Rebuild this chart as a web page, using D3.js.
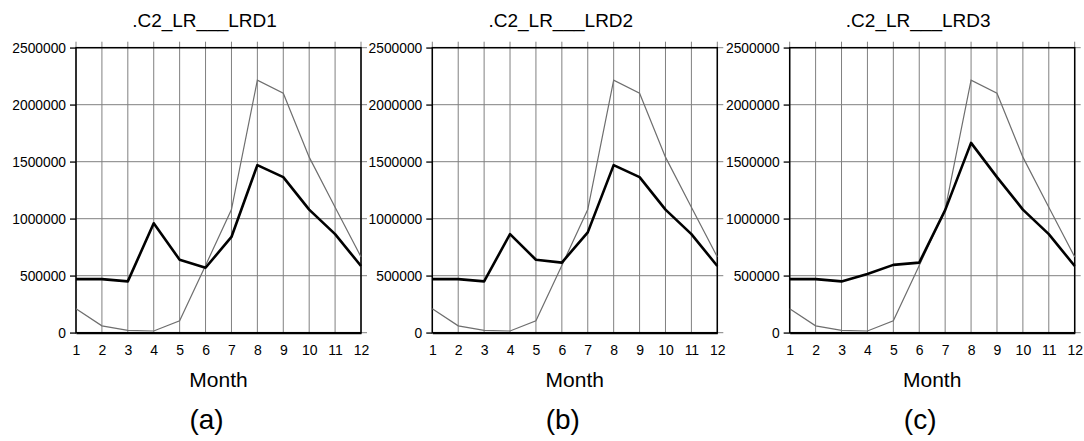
<!DOCTYPE html>
<html>
<head>
<meta charset="utf-8">
<script src="https://cdn.jsdelivr.net/npm/d3@7"></script>
<style>
  body { margin: 0; background: #fff; }
  svg { display: block; font-family: "Liberation Sans", Arial, Helvetica, sans-serif; }
</style>
</head>
<body>
<svg width="1084" height="441"></svg>
<script>
// data
var months = [1, 2, 3, 4, 5, 6, 7, 8, 9, 10, 11, 12];
var yTicks = [0, 500000, 1000000, 1500000, 2000000, 2500000];
var titles = [".C2_LR___LRD1", ".C2_LR___LRD2", ".C2_LR___LRD3"];
var letters = ["(a)", "(b)", "(c)"];

// thin grey line, same in all three panels
var reference = [210000, 60000, 20000, 15000, 105000, 590000, 1080000, 2215000, 2100000, 1540000, 1100000, 665000];

// thick black lines
var lrd1 = [470000, 470000, 450000, 960000, 640000, 570000, 840000, 1470000, 1365000, 1080000, 865000, 585000];
var lrd2 = [470000, 470000, 450000, 865000, 640000, 615000, 880000, 1470000, 1365000, 1080000, 865000, 585000];
var lrd3 = [470000, 470000, 450000, 515000, 595000, 615000, 1075000, 1665000, 1365000, 1080000, 865000, 585000];
var series = [lrd1, lrd2, lrd3];

var svg = d3.select("svg");
var panelLeft = [76, 432.3, 789.7],
    plotTop = 47.7,
    plotW = 285,
    plotH = 285,
    tick = 6;

var x = d3.scaleLinear().domain([1, 12]).range([0, plotW]),
    y = d3.scaleLinear().domain([0, 2500000]).range([plotH, 0]);

var line = d3.line()
    .x(function (d, i) { return x(months[i]); })
    .y(function (d) { return y(d); });

panelLeft.forEach(function (left, p) {
    var g = svg.append("g")
        .attr("transform", "translate(" + left + "," + plotTop + ")");

    // grid (vertical lines poke out the top, horizontal ones out the right)
    g.selectAll(".vgrid").data(months).enter().append("line")
        .attr("class", "vgrid")
        .attr("x1", function (d) { return x(d); })
        .attr("x2", function (d) { return x(d); })
        .attr("y1", -tick).attr("y2", plotH)
        .attr("stroke", "#808080").attr("stroke-width", 1);

    g.selectAll(".hgrid").data(yTicks).enter().append("line")
        .attr("class", "hgrid")
        .attr("x1", -tick).attr("x2", plotW + tick)
        .attr("y1", function (d) { return y(d); })
        .attr("y2", function (d) { return y(d); })
        .attr("stroke", "#808080").attr("stroke-width", 1);

    // frame
    g.append("rect")
        .attr("width", plotW).attr("height", plotH)
        .attr("fill", "none").attr("stroke", "#000").attr("stroke-width", 1.5);

    // left axis labels
    var yAxis = g.append("g")
        .call(d3.axisLeft(y).tickValues(yTicks).tickSize(tick).tickPadding(4).tickFormat(d3.format("d")));
    yAxis.select(".domain").remove();
    yAxis.selectAll("line").attr("stroke", "#000").attr("stroke-width", 1);
    yAxis.selectAll("text")
        .attr("font-size", 13.8)
        .attr("font-family", "Liberation Sans, Arial, sans-serif")
        .attr("fill", "#000");

    // bottom axis labels
    var xAxis = g.append("g")
        .attr("transform", "translate(0," + plotH + ")")
        .call(d3.axisBottom(x).tickValues(months).tickSize(0).tickPadding(12).tickFormat(d3.format("d")));
    xAxis.select(".domain").attr("stroke", "#000").attr("stroke-width", 2);
    xAxis.selectAll("text")
        .attr("font-size", 14)
        .attr("font-family", "Liberation Sans, Arial, sans-serif")
        .attr("fill", "#000");

    // series
    g.append("path")
        .datum(reference)
        .attr("d", line)
        .attr("fill", "none")
        .attr("stroke", "#6e6e6e")
        .attr("stroke-width", 1.2);

    g.append("path")
        .datum(series[p])
        .attr("d", line)
        .attr("fill", "none")
        .attr("stroke", "#000")
        .attr("stroke-width", 2.6)
        .attr("stroke-linejoin", "round");

    // titles and labels
    g.append("text")
        .attr("x", plotW / 2 - 14)
        .attr("y", 27 - plotTop)
        .attr("text-anchor", "middle")
        .attr("font-size", 19)
        .text(titles[p]);

    g.append("text")
        .attr("x", plotW / 2)
        .attr("y", 387 - plotTop)
        .attr("text-anchor", "middle")
        .attr("font-size", 21)
        .text("Month");

    g.append("text")
        .attr("x", plotW / 2 - 12)
        .attr("y", 429 - plotTop)
        .attr("text-anchor", "middle")
        .attr("font-size", 28)
        .text(letters[p]);
});
</script>
</body>
</html>
